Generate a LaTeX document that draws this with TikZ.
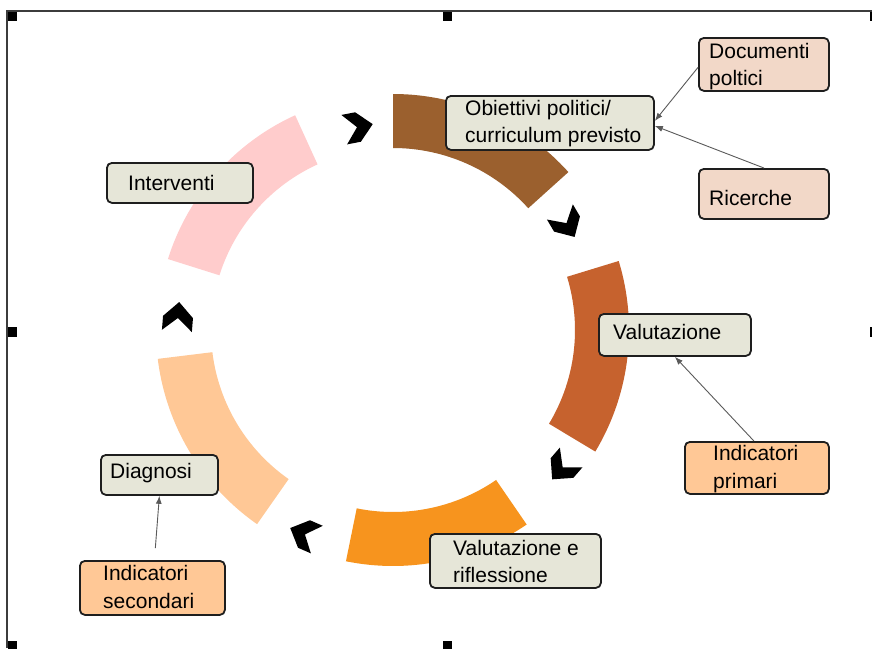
\documentclass[tikz,border=0pt]{standalone}
\usepackage{fontspec}
\setmainfont{Liberation Sans}
\usetikzlibrary{arrows.meta}
\definecolor{cBrown}{RGB}{155,96,46}
\definecolor{cRust}{RGB}{198,98,46}
\definecolor{cOrange}{RGB}{247,148,30}
\definecolor{cPeach}{RGB}{255,200,150}
\definecolor{cPink}{RGB}{255,204,204}
\definecolor{boxGray}{RGB}{230,230,216}
\definecolor{boxRose}{RGB}{242,216,200}
\definecolor{boxLine}{RGB}{30,30,30}
\definecolor{connLine}{RGB}{90,90,90}
\definecolor{frameLine}{RGB}{60,60,60}
\begin{document}
\begin{tikzpicture}[x=1pt,y=-1pt,
  gbox/.style={draw=boxLine, line width=1.8pt, rounded corners=5pt, fill=boxGray, inner sep=0pt, anchor=north west},
  rbox/.style={gbox, fill=boxRose},
  pbox/.style={gbox, fill=cPeach},
  lbl/.style={anchor=base west, inner sep=0pt, font=\fontsize{21}{27}\selectfont, text=black},
  conn/.style={draw=connLine, line width=0.9pt, -{Latex[length=8pt,width=6pt]}},
  chevshape/.style={fill=black},
  handle/.style={fill=black}]
\useasboundingbox (0,0) rectangle (872,648);
\fill[white] (0,0) rectangle (872,648);

% frame
\draw[frameLine, line width=2pt] (7,648) -- (7,11) -- (880,11);
\fill[handle] (8,12) rectangle (17,21);
\fill[handle] (443,12) rectangle (452,21);
\fill[handle] (8,327) rectangle (17,337);
\fill[handle] (8,641) rectangle (17,650);
\fill[handle] (443,641) rectangle (452,650);
\fill[handle] (870,12) rectangle (880,21);
\fill[handle] (870,327) rectangle (880,337);

% ring
\begin{scope}[shift={(393,330)}]
  \fill[cBrown] (-90:236) arc[start angle=-90, end angle=-42, radius=236] -- (-42:182) arc[start angle=-42, end angle=-90, radius=182] -- cycle;
  \fill[cRust] (-17:236) arc[start angle=-17, end angle=31, radius=236] -- (31:182) arc[start angle=31, end angle=-17, radius=182] -- cycle;
  \fill[cOrange] (55.5:236) arc[start angle=55.5, end angle=101.5, radius=236] -- (101.5:182) arc[start angle=101.5, end angle=55.5, radius=182] -- cycle;
  \fill[cPeach] (125:237) arc[start angle=125, end angle=173, radius=237] -- (173:182) arc[start angle=173, end angle=125, radius=182] -- cycle;
  \fill[cPink] (-162.5:236) arc[start angle=-162.5, end angle=-114.5, radius=236] -- (-114.5:182) arc[start angle=-114.5, end angle=-162.5, radius=182] -- cycle;
\end{scope}

% chevrons
\fill[chevshape, shift={(358,127)}, rotate=11] (-14,15) -- (0,15) -- (15,0) -- (0,-15) -- (-14,-15) -- (-1,0) -- cycle;
\fill[chevshape, shift={(567,224)}, rotate=-59.5] (-14,15) -- (0,15) -- (15,0) -- (0,-15) -- (-14,-15) -- (-1,0) -- cycle;
\fill[chevshape, shift={(562,468)}, rotate=-131] (-14,15) -- (0,15) -- (15,0) -- (0,-15) -- (-14,-15) -- (-1,0) -- cycle;
\fill[chevshape, shift={(304,534)}, rotate=156.5] (-14,15) -- (0,15) -- (15,0) -- (0,-15) -- (-14,-15) -- (-1,0) -- cycle;
\fill[chevshape, shift={(178,317)}, rotate=85.5] (-14,15) -- (0,15) -- (15,0) -- (0,-15) -- (-14,-15) -- (-1,0) -- cycle;

% boxes
\node[gbox, minimum width=208pt, minimum height=54pt] (obj) at (445,95) {};
\node[lbl] (objA) at (465,115) {Obiettivi politici/};
\node[lbl] (objB) at (465,142) {curriculum previsto};

\node[rbox, minimum width=130pt, minimum height=53pt] (doc) at (698,37) {};
\node[lbl] (docA) at (709,58) {Documenti};
\node[lbl] (docB) at (709,85) {poltici};

\node[rbox, minimum width=130pt, minimum height=50pt] (ric) at (698,168) {};
\node[lbl] (ricA) at (709,205) {Ricerche};

\node[gbox, minimum width=152pt, minimum height=42pt] (val) at (598,313) {};
\node[lbl] (valA) at (613,339) {Valutazione};

\node[pbox, minimum width=144pt, minimum height=52pt] (ipr) at (684,441) {};
\node[lbl] (iprA) at (713,460) {Indicatori};
\node[lbl] (iprB) at (713,488) {primari};

\node[gbox, minimum width=171pt, minimum height=54pt] (vr) at (429,533) {};
\node[lbl] (vrA) at (453,555) {Valutazione e};
\node[lbl] (vrB) at (453,582) {riflessione};

\node[gbox, minimum width=117pt, minimum height=40pt] (dia) at (100,454) {};
\node[lbl] (diaA) at (110,478) {Diagnosi};

\node[pbox, minimum width=145pt, minimum height=54pt] (isec) at (79,560) {};
\node[lbl] (isecA) at (103,580) {Indicatori};
\node[lbl] (isecB) at (103,608) {secondari};

\node[gbox, minimum width=146pt, minimum height=40pt] (int) at (106,162) {};
\node[lbl] (intA) at (128,190) {Interventi};

% connectors
\draw[conn] ([yshift=-3pt]doc.west) -- ([yshift=2pt]obj.east);
\draw[conn] (ric.north) -- ([yshift=-3pt]obj.east);
\draw[conn] ([xshift=-3pt]ipr.north) -- (val.south);
\draw[conn, shorten <=12pt] ([xshift=2pt]isec.north) -- (dia.south);
\end{tikzpicture}
\end{document}
